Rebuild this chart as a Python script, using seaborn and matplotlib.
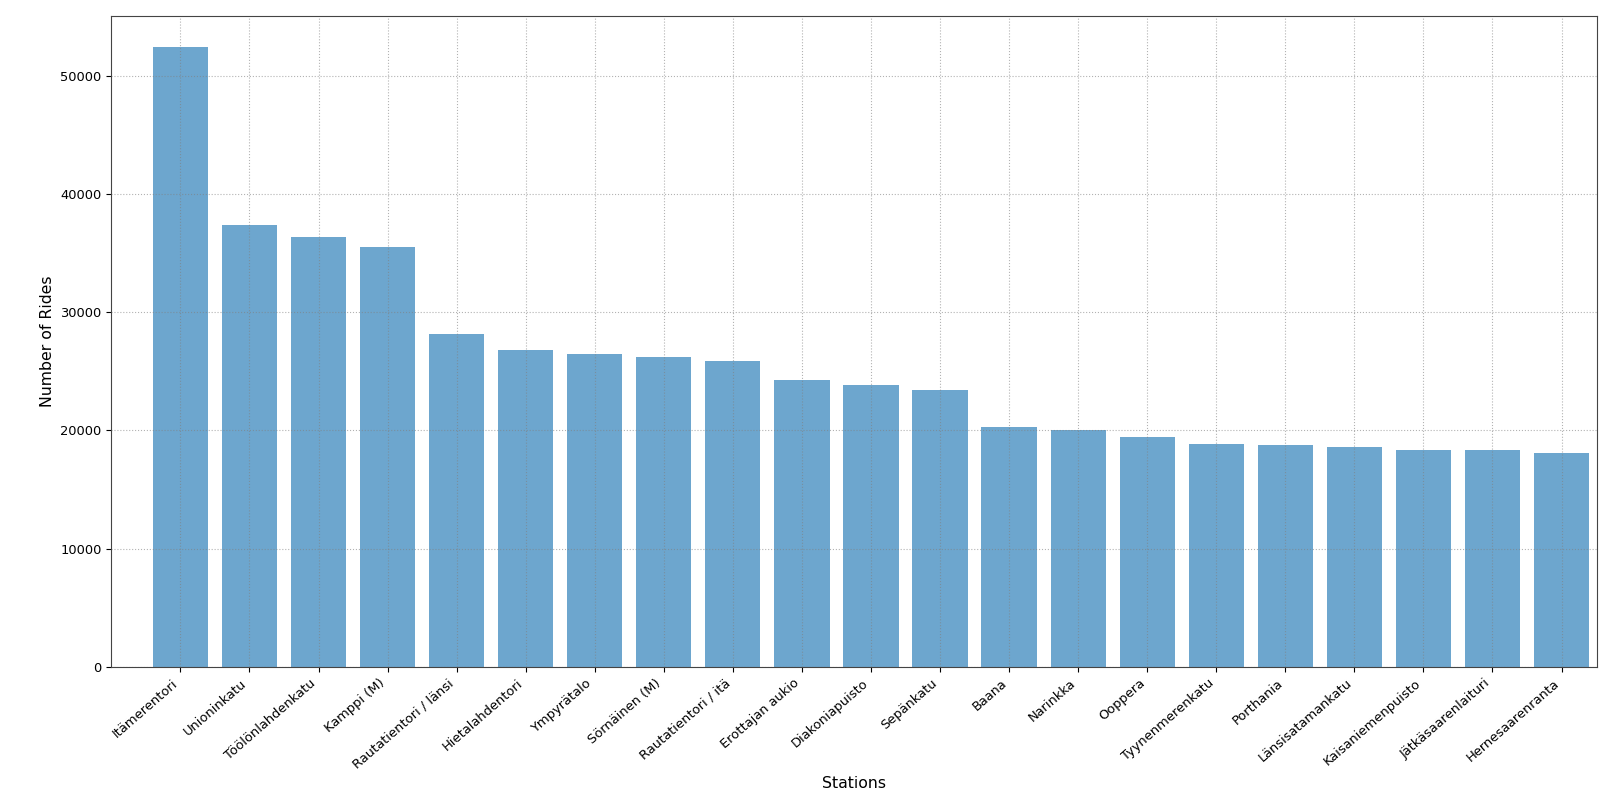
import matplotlib
matplotlib.use('Agg')
import matplotlib.pyplot as plt
import seaborn as sns

# ride counts per station
stations = ['Itämerentori', 'Unioninkatu', 'Töölönlahdenkatu', 'Kamppi (M)',
            'Rautatientori / länsi', 'Hietalahdentori', 'Ympyrätalo', 'Sörnäinen (M)',
            'Rautatientori / itä', 'Erottajan aukio', 'Diakoniapuisto', 'Sepänkatu',
            'Baana', 'Narinkka', 'Ooppera', 'Tyynenmerenkatu', 'Porthania',
            'Länsisatamankatu', 'Kaisaniemenpuisto', 'Jätkäsaarenlaituri', 'Hernesaarenranta']
rides = [52440, 37380, 36330, 35480, 28160, 26780, 26440, 26210, 25870, 24260,
         23830, 23440, 20250, 20040, 19480, 18860, 18750, 18580, 18380, 18300, 18090]

fig, ax = plt.subplots(figsize=(16.14, 7.92), dpi=100)
fig.subplots_adjust(left=0.069, right=0.9893, top=0.98, bottom=0.158)

sns.barplot(x=stations, y=rides, color='#1f77b4', alpha=0.65, saturation=1,
            width=0.8, ax=ax)

ax.grid(True, linestyle=':', color='gray', alpha=0.6)
ax.set_xlim(-1.0, 20.51)
ax.set_xlabel('Stations', fontsize=11.3)
ax.set_ylabel('Number of Rides', fontsize=11.3)
plt.setp(ax.get_xticklabels(), rotation=41, ha='right', fontsize=9.4)
plt.setp(ax.get_yticklabels(), fontsize=9.4)
for s in ax.spines.values():
    s.set_color('#444444')

plt.savefig('out.png')
